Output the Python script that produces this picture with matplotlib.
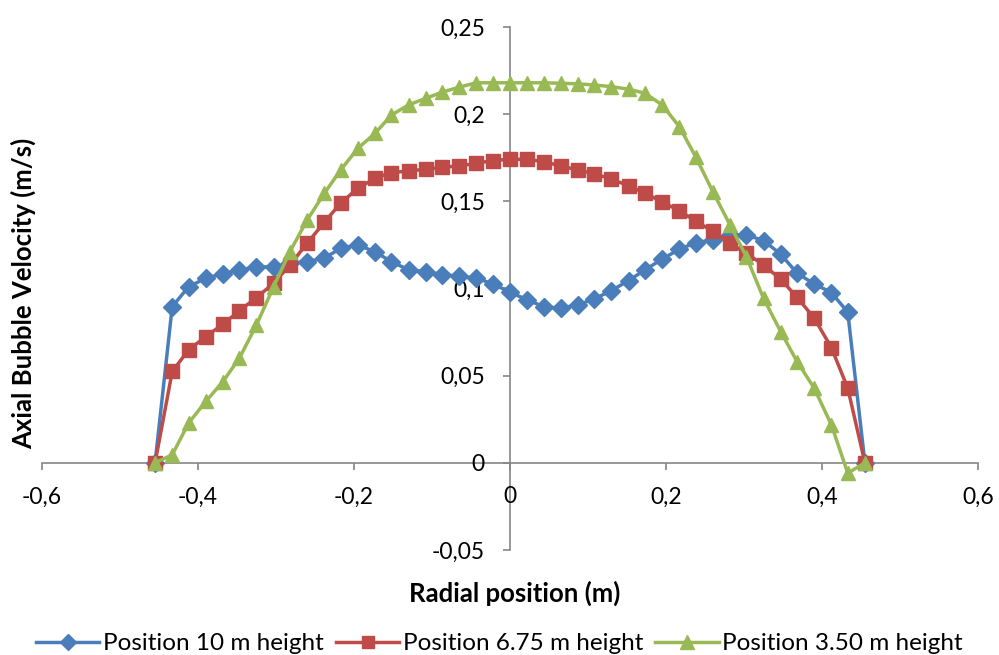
import matplotlib.pyplot as plt
import matplotlib.ticker as mticker

# radial positions (m)
radial = [-0.455, -0.433, -0.412, -0.390, -0.368, -0.347, -0.325, -0.303, -0.282, -0.260,
          -0.238, -0.217, -0.195, -0.173, -0.152, -0.130, -0.108, -0.087, -0.065, -0.043,
          -0.022, 0.000, 0.022, 0.043, 0.065, 0.087, 0.108, 0.130, 0.152, 0.173,
          0.195, 0.217, 0.238, 0.260, 0.282, 0.303, 0.325, 0.347, 0.368, 0.390,
          0.412, 0.433, 0.455]

# axial bubble velocity (m/s)
vel_10m = [0, 0.0896, 0.101, 0.1059, 0.1084, 0.1107, 0.1122, 0.1126, 0.1145, 0.1154,
           0.1175, 0.123, 0.125, 0.121, 0.1154, 0.1107, 0.1097, 0.108, 0.107, 0.106,
           0.1026, 0.0979, 0.0935, 0.0896, 0.0887, 0.0906, 0.094, 0.0988, 0.1045, 0.1107,
           0.1168, 0.1225, 0.1263, 0.1279, 0.1307, 0.1307, 0.1275, 0.1197, 0.1088, 0.1026,
           0.0977, 0.0864, 0]
vel_675m = [0, 0.0524, 0.0648, 0.0724, 0.0795, 0.0872, 0.0948, 0.103, 0.1135, 0.126,
            0.138, 0.149, 0.1575, 0.1632, 0.1665, 0.1674, 0.1684, 0.1695, 0.1703, 0.1718,
            0.1734, 0.1741, 0.1741, 0.1728, 0.1703, 0.168, 0.1659, 0.1627, 0.159, 0.1546,
            0.1498, 0.1445, 0.1388, 0.1327, 0.126, 0.1202, 0.1135, 0.1053, 0.095, 0.083,
            0.0661, 0.0428, 0]
vel_350m = [0, 0.0046, 0.0228, 0.0352, 0.0466, 0.060, 0.0791, 0.1011, 0.1212, 0.1393,
            0.1546, 0.168, 0.1804, 0.189, 0.1995, 0.2053, 0.2091, 0.2126, 0.2155, 0.218,
            0.218, 0.218, 0.218, 0.218, 0.2177, 0.2174, 0.2167, 0.2158, 0.2143, 0.212,
            0.2053, 0.1929, 0.1756, 0.1556, 0.1365, 0.1183, 0.0944, 0.0753, 0.0581, 0.0428,
            0.0218, -0.0059, 0]

labels = ['Position 10 m height', 'Position 6.75 m height', 'Position 3.50 m height']

plt.rcParams['font.family'] = ['Lato', 'DejaVu Sans']

fig = plt.figure(figsize=(9.99, 6.55), dpi=100)
ax = fig.add_axes([0.042, 0.1603, 0.937, 0.7985])

ax.plot(radial, vel_10m, color='#4A7EBB', lw=2.5, marker='D', ms=9, label=labels[0])
ax.plot(radial, vel_675m, color='#BE4B48', lw=2.5, marker='s', ms=9.5, label=labels[1])
ax.plot(radial, vel_350m, color='#98B954', lw=2.5, marker='^', ms=10.5, label=labels[2])

ax.set_xlim(-0.6, 0.6)
ax.set_ylim(-0.05, 0.25)
ax.xaxis.set_major_locator(mticker.MultipleLocator(0.2))
ax.yaxis.set_major_locator(mticker.MultipleLocator(0.05))

def comma(v, pos):
    s = '%g' % round(v, 4)
    return s.replace('.', ',')

ax.xaxis.set_major_formatter(mticker.FuncFormatter(comma))
ax.yaxis.set_major_formatter(mticker.FuncFormatter(comma))

# Excel style: axes cross at the origin
ax.spines['left'].set_position(('data', 0))
ax.spines['bottom'].set_position(('data', 0))
ax.spines['top'].set_visible(False)
ax.spines['right'].set_visible(False)
for s in ['left', 'bottom']:
    ax.spines[s].set_color('#868686')
    ax.spines[s].set_linewidth(1.2)
    ax.spines[s].set_zorder(0)

ax.tick_params(axis='both', direction='out', length=5, width=1.2, color='#868686',
               labelsize=16.5)
ax.tick_params(axis='x', pad=12)
ax.tick_params(axis='y', pad=13)

ax.set_xlabel('Radial position (m)', fontsize=18.5, fontweight='bold')
ax.xaxis.set_label_coords(0.505, -0.058)
ax.set_ylabel('Axial Bubble Velocity (m/s)', fontsize=18.5, fontweight='bold')
ax.yaxis.set_label_coords(-0.006, 0.491)

fig.legend(loc='lower center', bbox_to_anchor=(0.5, -0.032), ncol=3, frameon=False,
           fontsize=17.5, handlelength=2.6, handletextpad=0.15, columnspacing=0.5,
           markerscale=0.9)

fig.savefig('out.png', dpi=100)
